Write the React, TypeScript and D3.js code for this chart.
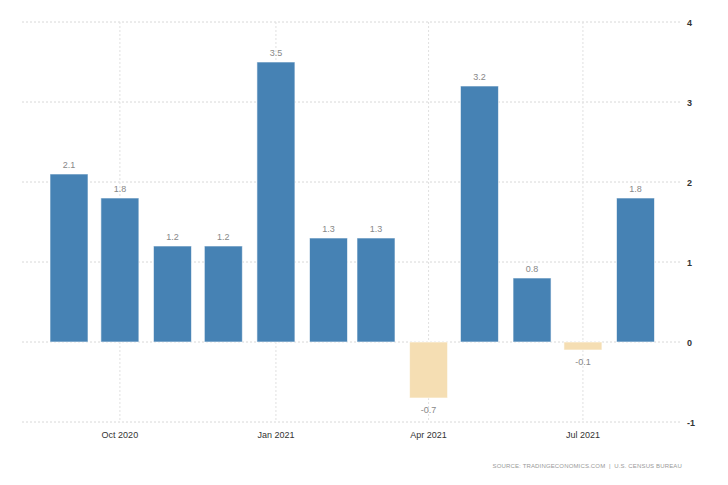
import React from 'react';
import * as d3 from 'd3';

// monthly change, %
const months = ['2020-09', '2020-10', '2020-11', '2020-12', '2021-01', '2021-02', '2021-03', '2021-04', '2021-05', '2021-06', '2021-07', '2021-08'];
const values = [2.1, 1.8, 1.2, 1.2, 3.5, 1.3, 1.3, -0.7, 3.2, 0.8, -0.1, 1.8];
const yTicks = [4, 3, 2, 1, 0, -1];
const xTickMonths = ['2020-10', '2021-01', '2021-04', '2021-07'];
const SOURCE = 'SOURCE: TRADINGECONOMICS.COM  |  U.S. CENSUS BUREAU';

const W = 728;
const H = 485;
const LEFT = 22;
const RIGHT = 682;
const FONT = '"Liberation Sans", Arial, sans-serif';

const parse = d3.timeParse('%Y-%m');
const fmt = d3.timeFormat('%b %Y');

export default function App() {
  const dates = months.map(m => parse(m) as Date);

  // time scale: bars sit on the 1st of each month
  const x = d3.scaleTime()
    .domain([dates[0], dates[dates.length - 1]])
    .range([69, 635.5]);

  const y = d3.scaleLinear().domain([-1, 4]).range([422, 22]);
  const barW = 38;

  return (
    <svg width={W} height={H} style={{ position: 'absolute', left: 0, top: 0, background: '#fff' }} fontFamily={FONT}>
      {/* horizontal grid */}
      {yTicks.map(t => (
        <g key={t}>
          <line x1={LEFT} x2={RIGHT} y1={y(t)} y2={y(t)} stroke="#d8d8d8" strokeDasharray="2,2" />
          <text x={RIGHT + 5} y={y(t) + 3.5} fontSize={9} fill="#333" fontWeight="bold">{t}</text>
        </g>
      ))}
      {/* vertical grid + x labels */}
      {xTickMonths.map(m => {
        const d = parse(m) as Date;
        const px = x(d);
        return (
          <g key={m}>
            <line x1={px} x2={px} y1={y(4)} y2={y(-1)} stroke="#e0e0e0" strokeDasharray="2,2" />
            <text x={px} y={438} fontSize={9} fill="#333" textAnchor="middle">{fmt(d)}</text>
          </g>
        );
      })}
      {/* bars */}
      {values.map((v, i) => {
        const cx = x(dates[i]);
        const top = y(Math.max(0, v));
        const h = Math.abs(y(v) - y(0));
        return (
          <g key={i}>
            <rect x={cx - barW / 2} y={top} width={barW} height={h}
              fill={v >= 0 ? '#4682b4' : '#f5deb3'} stroke="#fff" strokeOpacity={0.6} strokeWidth={1} />
            <text x={cx} y={v >= 0 ? y(v) - 6 : y(v) + 15} fontSize={9} fill="#888" textAnchor="middle">
              {v.toFixed(1)}
            </text>
          </g>
        );
      })}
      <text x={RIGHT} y={468} fontSize={6} fill="#999" textAnchor="end" letterSpacing={0.15} style={{ whiteSpace: 'pre' }}>{SOURCE}</text>
    </svg>
  );
}
